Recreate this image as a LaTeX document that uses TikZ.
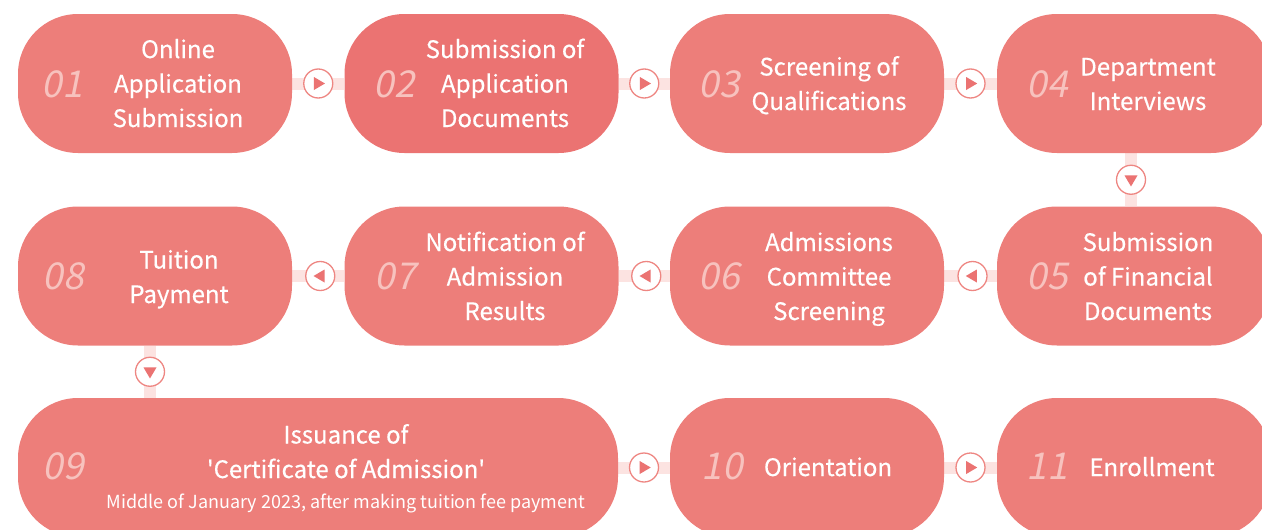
\documentclass[tikz,border=0pt]{standalone}
\usepackage{fontspec}
\newfontfamily\txtfont[FakeBold=0.4]{Noto Sans CJK KR}
\newfontfamily\subfont{Noto Sans CJK KR}
\newfontfamily\numfont[FakeSlant=0.2]{Noto Sans CJK KR}
\usetikzlibrary{backgrounds,calc}
\definecolor{boxc}{HTML}{ED7E7A}
\definecolor{boxd}{HTML}{EB7372}
\definecolor{bandc}{HTML}{FCE3E1}
\definecolor{ringc}{HTML}{EE8682}
\definecolor{numc}{HTML}{F7C2BE}
\tikzset{
  stage/.style={fill=boxc, rounded corners=60pt, minimum width=274pt, minimum height=139pt, inner sep=0pt},
  txt/.style={text=white, align=center, inner sep=0pt, anchor=base, font=\txtfont\fontsize{24}{34.5}\selectfont},
  num/.style={text=numc, inner sep=0pt, font=\numfont\fontsize{37}{40}\selectfont},
  band/.style={draw=bandc, line width=12pt},
  ring/.style={circle, draw=ringc, line width=1.3pt, fill=white, minimum size=29pt, inner sep=0pt},
  tri/.style={fill=boxd}
}
\newcommand{\arrR}[1]{\fill[tri] ($(#1)+(-4.3,-6.5)$) -- ++(11,6.5) -- ++(-11,6.5) -- cycle;}
\newcommand{\arrL}[1]{\fill[tri] ($(#1)+(4.3,-6.5)$) -- ++(-11,6.5) -- ++(11,6.5) -- cycle;}
\newcommand{\arrD}[1]{\fill[tri] ($(#1)+(-6.5,-4.3)$) -- ++(6.5,11) -- ++(6.5,-11) -- cycle;}
\begin{document}
\begin{tikzpicture}[x=1pt,y=-1pt]
\useasboundingbox (0,0) rectangle (1262,530);
\clip (0,0) rectangle (1262,530);
% stages
\node[stage] (n1) at (155,83.5) {};
\node[stage, fill=boxd] (n2) at (481.5,83.5) {};
\node[stage] (n3) at (807,83.5) {};
\node[stage] (n4) at (1134,83.5) {};
\node[stage] (n5) at (1134,276) {};
\node[stage] (n6) at (807,276) {};
\node[stage] (n7) at (481.5,276) {};
\node[stage] (n8) at (155,276) {};
\node[stage, minimum width=600pt] (n9) at (318,467.5) {};
\node[stage] (n10) at (807,467.5) {};
\node[stage] (n11) at (1134,467.5) {};
% connector bands
\begin{scope}[on background layer]
\draw[band] (n1.east) -- (n2.west);
\draw[band] (n2.east) -- (n3.west);
\draw[band] (n3.east) -- (n4.west);
\draw[band] ([xshift=-3pt]n4.south) -- ([xshift=-3pt]n5.north);
\draw[band] (n5.west) -- (n6.east);
\draw[band] (n6.west) -- (n7.east);
\draw[band] (n7.west) -- (n8.east);
\draw[band] ([xshift=-5pt]n8.south) -- ([xshift=-5pt]n8.south |- n9.north);
\draw[band] (n9.east) -- (n10.west);
\draw[band] (n10.east) -- (n11.west);
\end{scope}
% connector circles
\path (n1.east) -- (n2.west) node[ring, midway] (c12) {};
\path (n2.east) -- (n3.west) node[ring, midway] (c23) {};
\path (n3.east) -- (n4.west) node[ring, midway] (c34) {};
\path ([xshift=-3pt]n4.south) -- ([xshift=-3pt]n5.north) node[ring, midway] (c45) {};
\path (n5.west) -- (n6.east) node[ring, midway, xshift=2pt] (c56) {};
\path (n6.west) -- (n7.east) node[ring, midway, xshift=2pt] (c67) {};
\path (n7.west) -- (n8.east) node[ring, midway, xshift=2pt] (c78) {};
\path ([xshift=-5pt]n8.south) -- ([xshift=-5pt]n8.south |- n9.north) node[ring, midway] (c89) {};
\path (n9.east) -- (n10.west) node[ring, midway] (c910) {};
\path (n10.east) -- (n11.west) node[ring, midway] (c1011) {};
\arrR{c12} \arrR{c23} \arrR{c34}
\arrD{c45}
\arrL{c56} \arrL{c67} \arrL{c78}
\arrD{c89}
\arrR{c910} \arrR{c1011}
% numbers
\node[num] (k1) at (62,84) {01};
\node[num] (k2) at (394,84) {02};
\node[num] (k3) at (719,84) {03};
\node[num] (k4) at (1047,84) {04};
\node[num] (k5) at (1047,276) {05};
\node[num] (k6) at (719,276) {06};
\node[num] (k7) at (395,276) {07};
\node[num] (k8) at (63,276) {08};
\node[num] (k9) at (63,466) {09};
\node[num] (k10) at (722,466) {10};
\node[num] (k11) at (1047,466) {11};
% texts (anchored at the baseline of the last line)
\node[txt] (t1) at (178,127) {Online\\Application\\Submission};
\node[txt] (t2) at (505,127) {Submission of\\Application\\Documents};
\node[txt] (t3) at (829,110) {Screening of\\Qualifications};
\node[txt] (t4) at (1148,110) {Department\\Interviews};
\node[txt] (t5) at (1148,320) {Submission\\of Financial\\Documents};
\node[txt] (t6) at (829,320) {Admissions\\Committee\\Screening};
\node[txt] (t7) at (505,320) {Notification of\\Admission\\Results};
\node[txt] (t8) at (179,303) {Tuition\\Payment};
\node[txt] (t9) at (346,478) {Issuance of\\'Certificate of Admission'};
\node[txt, font=\subfont\fontsize{18}{20}\selectfont] (t9b) at (346,508) {Middle of January 2023, after making tuition fee payment};
\node[txt] (t10) at (828,476) {Orientation};
\node[txt] (t11) at (1152,476) {Enrollment};
\end{tikzpicture}
\end{document}
